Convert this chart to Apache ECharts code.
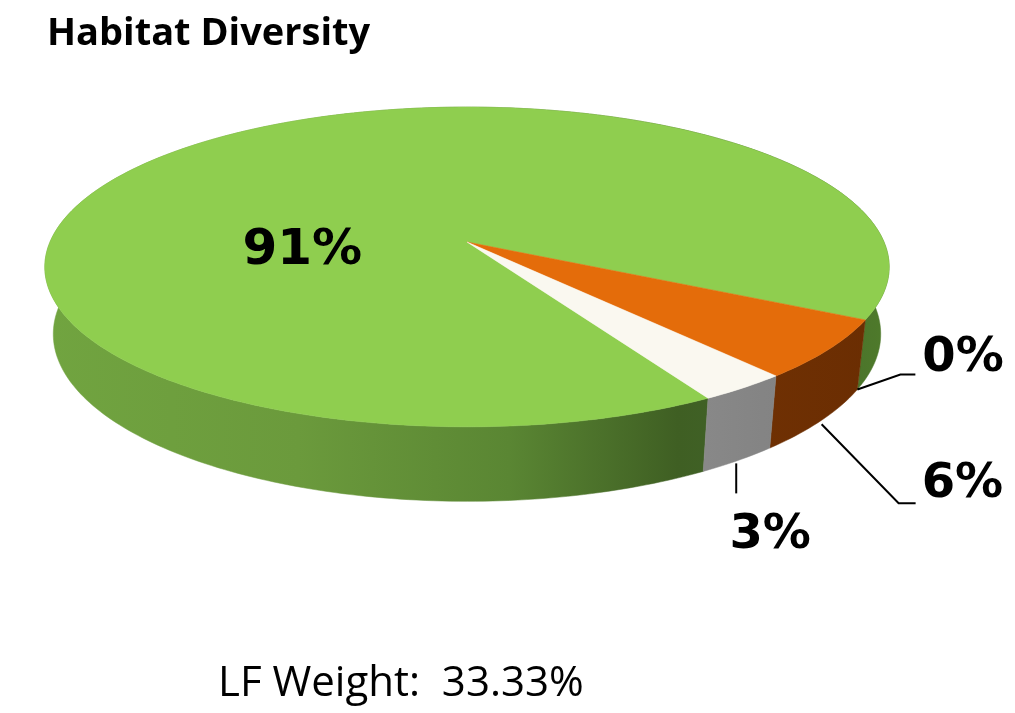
<html lang="en">
  <head>
    <meta charset="UTF-8" />
    <title>Habitat Diversity</title>
    <style>
      html, body { margin: 0; padding: 0; background: #fff; }
      #main { width: 1015px; height: 713px; }
    </style>
  </head>
  <body>
    <div id="main"></div>

    <script src="https://cdn.jsdelivr.net/npm/echarts@6/dist/echarts.min.js"></script>
    <script>
      // chart data
      let sliceValues = [91, 0, 6, 3]
      let sliceLabels = ['91%', '0%', '6%', '3%']
      let titleText = 'Habitat Diversity'
      let footText = 'LF Weight:  33.33%'

      // colours (top face, side wall gradient)
      let topColors = ['#8fce4f', '#4f81bd', '#e46c0a', '#faf8f0']
      let wallColors = [
        ['#71a440', '#6b9a3c', '#5a8633', '#3f5f23', '#41632a', '#4f7b2b'],
        ['#3b6290', '#3b6290', '#3b6290', '#3b6290', '#3b6290', '#3b6290'],
        ['#8a3e06', '#8a3e06', '#813a05', '#773403', '#6f3003', '#6a2d02'],
        ['#8e8e8e', '#8e8e8e', '#8c8c8c', '#8a8a8a', '#848484', '#7e7e7e']
      ]
      let wallStops = [0, 0.3, 0.55, 0.75, 0.85, 1]

      // 3d pie geometry (perspective ellipse)
      let cx = 467, cy = 242, rx = 417, ry = 156, persp = 0.156, depth = 66, bottomScale = 0.98
      let startAngle = 60 // degrees clockwise from 3 o'clock

      let total = sliceValues.reduce((a, b) => a + b, 0)
      let startAngles = []
      let endAngles = []
      let acc = startAngle
      sliceValues.forEach(v => {
        startAngles.push(acc)
        acc += v / total * 360
        endAngles.push(acc)
      })

      function topPoint(deg, r) {
        let t = deg * Math.PI / 180
        let u = r * Math.cos(t), v = r * Math.sin(t)
        let s = 1 / (1 - persp * v)
        return [cx + rx * u * s, cy + ry * v * s]
      }
      function bottomPoint(deg) {
        let t = deg * Math.PI / 180
        let u = Math.cos(t), v = Math.sin(t)
        let s = 1 / (1 - persp * v)
        return [cx + bottomScale * rx * u * s, cy + bottomScale * ry * v * s + depth * s]
      }

      // label layout, relative to the anchor of each slice
      let labelLayout = [
        { inside: true, r: 0.5, text: [-22, 60], size: 50 },
        { line: [[0, 0], [43, -15], [58, -15]], text: [65, -31], align: 'left' },
        { line: [[0, 4], [77, 83], [94, 83]], text: [100, 64], align: 'left' },
        { line: [[-2, 3], [-2, 33]], text: [32, 75], align: 'center' }
      ]

      let myChart = echarts.init(document.getElementById('main'))

      let option = {
        animation: false,
        title: [
          {
            text: titleText,
            left: 42,
            top: 10,
            textStyle: { fontFamily: 'Open Sans', fontWeight: 'bold', fontSize: 38, color: '#000' }
          },
          {
            text: footText,
            left: 213,
            top: 658,
            textStyle: { fontFamily: 'Open Sans', fontWeight: 'normal', fontSize: 42, color: '#000' }
          }
        ],
        series: [
          {
            type: 'custom',
            coordinateSystem: 'none',
            data: sliceValues,
            renderItem: function (params, api) {
              let i = params.dataIndex
              let a0 = startAngles[i], a1 = endAngles[i]
              let children = []
              if (a1 - a0 > 0.01) {
                let n = Math.max(2, Math.ceil(a1 - a0))
                let top = [[cx, cy]]
                let rimTop = []
                let rimBottom = []
                for (let k = 0; k <= n; k++) {
                  let a = a0 + (a1 - a0) * k / n
                  let p = topPoint(a, 1)
                  top.push(p)
                  rimTop.push(p)
                  rimBottom.push(bottomPoint(a))
                }
                let grad = new echarts.graphic.LinearGradient(cx - rx - 5, 0, cx + rx + 5, 0,
                  wallStops.map((o, j) => ({ offset: o, color: wallColors[i][j] })), true)
                children.push({
                  type: 'polygon',
                  z2: 1,
                  shape: { points: rimTop.concat(rimBottom.reverse()) },
                  style: { fill: grad, stroke: grad, lineWidth: 0.5 }
                })
                children.push({
                  type: 'polygon',
                  z2: 10,
                  shape: { points: top },
                  style: { fill: topColors[i], stroke: topColors[i], lineWidth: 0.5 }
                })
              }
              let mid = (a0 + a1) / 2
              let lay = labelLayout[i]
              let anchor = lay.inside ? topPoint(mid, lay.r) : bottomPoint(mid)
              if (lay.line) {
                children.push({
                  type: 'polyline',
                  z2: 20,
                  shape: { points: lay.line.map(d => [anchor[0] + d[0], anchor[1] + d[1]]) },
                  style: { stroke: '#000', lineWidth: 2, fill: null }
                })
              }
              children.push({
                type: 'text',
                z2: 30,
                style: {
                  text: sliceLabels[i],
                  x: anchor[0] + lay.text[0],
                  y: anchor[1] + lay.text[1],
                  fill: '#000',
                  font: 'bold ' + (lay.size || 48) + 'px "DejaVu Sans"',
                  align: lay.align || 'center',
                  verticalAlign: 'middle'
                }
              })
              return { type: 'group', children: children }
            }
          }
        ]
      }
      myChart.setOption(option)
    </script>
  </body>
</html>
